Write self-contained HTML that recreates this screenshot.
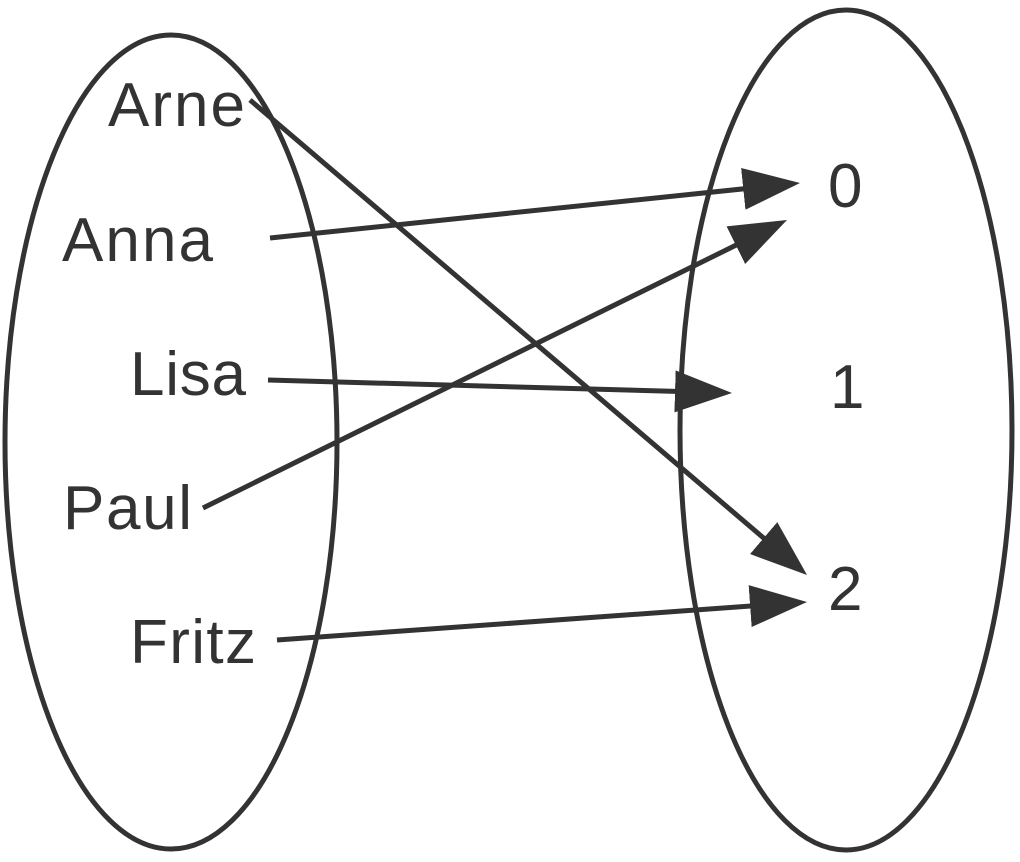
<!DOCTYPE html>
<html><head><style>
html,body{margin:0;padding:0;background:#fff;}
svg{display:block;}
text{font-family:"Liberation Sans",Arial,sans-serif;font-size:62px;fill:#333;}
</style></head><body>
<svg width="1020" height="862" viewBox="0 0 1020 862">
<defs>
<marker id="a" markerUnits="userSpaceOnUse" markerWidth="60" markerHeight="44" refX="50" refY="21" orient="auto">
<path d="M0,0 L57,21 L0,42 z" fill="#333"/>
</marker>
</defs>
<g fill="none" stroke="#333" stroke-width="5">
<ellipse cx="171" cy="442" rx="166" ry="407"/>
<ellipse cx="846" cy="430" rx="166" ry="420"/>
</g>
<g stroke="#333" stroke-width="5" fill="none" marker-end="url(#a)">
<line x1="250" y1="100" x2="801.7" y2="570.5"/>
<line x1="270" y1="238" x2="793" y2="183.7"/>
<line x1="268" y1="380" x2="725" y2="392.8"/>
<line x1="203" y1="508" x2="780.7" y2="223.1"/>
<line x1="277" y1="640" x2="800" y2="602.5"/>
</g>
<text x="108" y="126" textLength="137">Arne</text>
<text x="62" y="261" textLength="151">Anna</text>
<text x="130" y="395" textLength="116">Lisa</text>
<text x="63" y="529" textLength="129">Paul</text>
<text x="130" y="663" textLength="126">Fritz</text>
<text x="828" y="207">0</text>
<text x="830" y="408">1</text>
<text x="828" y="610">2</text>
</svg>
</body></html>
